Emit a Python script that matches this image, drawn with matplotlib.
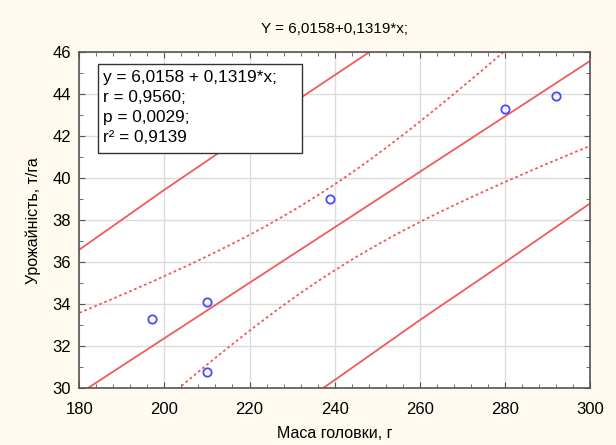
import matplotlib.pyplot as plt
import numpy as np
from matplotlib.ticker import MultipleLocator
from matplotlib.patches import Rectangle

plt.rcParams['font.family'] = ['Liberation Sans', 'DejaVu Sans']

# observed points
mass = np.array([197, 210, 210, 239, 280, 292])
yield_t = np.array([33.3, 34.1, 30.8, 39.0, 43.3, 43.9])

# outer band
band_x = [180, 200, 220, 240, 260, 280, 300]
band_upper = [36.6, 39.45, 42.2, 44.9, 47.6, 50.3, 53.0]
band_lower = [22.0, 24.8, 27.6, 30.4, 33.25, 36.0, 38.8]

title = 'Y = 6,0158+0,1319*x;'
stats_text = 'y = 6,0158 + 0,1319*x;\nr = 0,9560;\np = 0,0029;\nr² = 0,9139'

# regression and 95% confidence band of the mean
b, a = np.polyfit(mass, yield_t, 1)
n = len(mass)
resid = yield_t - (a + b * mass)
s = np.sqrt(np.sum(resid ** 2) / (n - 2))
sxx = np.sum((mass - mass.mean()) ** 2)
t_val = 2.776  # t(0.975, df=4)
xs = np.linspace(180, 300, 200)
fit = a + b * xs
hw = t_val * s * np.sqrt(1 / n + (xs - mass.mean()) ** 2 / sxx)

red = '#f25a5a'
fig = plt.figure(figsize=(6.16, 4.45), dpi=100, facecolor='#fefaef')
ax = fig.add_axes([0.1287, 0.127, 0.8291, 0.756])
ax.set_facecolor('white')

ax.plot(xs, fit, color=red, lw=1.3)
ax.plot(xs, fit + hw, color=red, lw=1.3, ls=(0, (1.5, 1.5)))
ax.plot(xs, fit - hw, color=red, lw=1.3, ls=(0, (1.5, 1.5)))
ax.plot(band_x, band_upper, color=red, lw=1.3)
ax.plot(band_x, band_lower, color=red, lw=1.3)
ax.plot(mass, yield_t, 'o', ms=6, mfc='none', mec='#4a4aff', mew=1.3)

ax.set_xlim(180, 300)
ax.set_ylim(30, 46)
ax.xaxis.set_major_locator(MultipleLocator(20))
ax.xaxis.set_minor_locator(MultipleLocator(4))
ax.yaxis.set_major_locator(MultipleLocator(2))
ax.yaxis.set_minor_locator(MultipleLocator(1))
ax.tick_params(which='both', direction='in', top=True, right=True, color='#555555', labelsize=12)
ax.tick_params(which='major', length=4)
ax.tick_params(which='minor', length=3)
ax.tick_params(axis='x', pad=10)
ax.tick_params(axis='y', pad=6)
ax.grid(True, which='major', color='#dcdcdc', lw=1)
ax.set_axisbelow(True)
for sp in ax.spines.values():
    sp.set_color('#555555')
    sp.set_linewidth(1.2)

ax.set_title(title, fontsize=11, pad=14)
ax.set_xlabel('Маса головки, г', fontsize=11.5, labelpad=6)
ax.set_ylabel('Урожайність, т/га', fontsize=11.5, labelpad=8)

ax.add_patch(Rectangle((0.036, 0.700), 0.400, 0.264, transform=ax.transAxes,
                       fc='white', ec='#333333', lw=1, zorder=5))
ax.text(0.047, 0.948, stats_text, transform=ax.transAxes, fontsize=12.4,
        va='top', ha='left', linespacing=1.43, zorder=6)

fig.savefig('out.png', dpi=100, facecolor=fig.get_facecolor())
